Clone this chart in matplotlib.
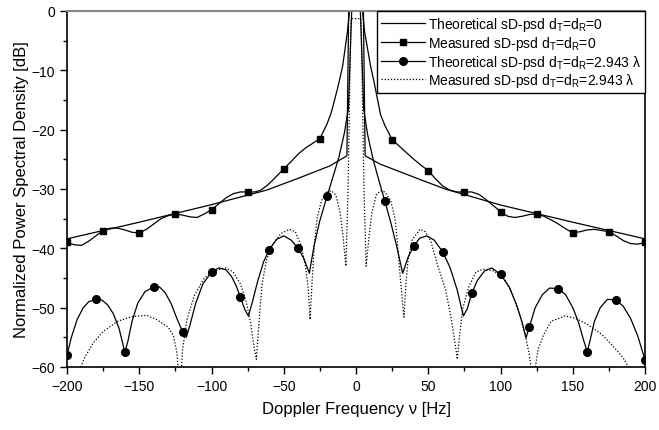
import matplotlib
matplotlib.use("Agg")
import matplotlib.pyplot as plt
from matplotlib.ticker import MultipleLocator

plt.rcParams['font.family'] = ['Liberation Sans', 'DejaVu Sans']
plt.rcParams['mathtext.fontset'] = 'custom'
plt.rcParams['mathtext.rm'] = 'Liberation Sans'
plt.rcParams['mathtext.it'] = 'Liberation Sans:italic'

# Theoretical sD-psd, dT = dR = 0
theo0_f = [-200, -150, -101, -62, -40, -18, -6.3, -5, 5, 6.3, 16.6, 40, 61.6, 100, 150, 200]
theo0_db = [-38.4, -35.6, -32.7, -30.2, -28.2, -26.1, -24.4, 2, 2, -24.4, -25.8, -28.0, -30.0,
            -32.7, -35.6, -38.4]

# Measured sD-psd, dT = dR = 0 (markers every 25 Hz)
meas0_f = [-200, -195, -190, -185, -180, -175, -170, -165, -160, -155, -150, -145, -140, -135,
           -130, -125, -120, -115, -110, -105, -100, -95, -90, -85, -80, -75, -70, -66, -62,
           -58, -54, -50, -45, -40, -35, -30, -25, -20, -17, -12.5, -9.2, -6, -4.5, -4,
           4, 4.5, 6, 10, 12.5, 17, 20, 25, 30, 35, 40, 45, 50, 55, 60, 65, 70, 75, 80, 85,
           90, 95, 100, 105, 110, 115, 120, 125, 130, 135, 140, 145, 150, 155, 160, 165, 170,
           175, 180, 185, 190, 195, 200]
meas0_db = [-39.0, -39.4, -39.5, -38.8, -37.9, -37.0, -36.6, -36.6, -36.9, -37.3, -37.4, -36.8,
            -35.9, -35.0, -34.5, -34.2, -34.4, -34.7, -34.8, -34.2, -33.5, -32.5, -31.5, -30.8,
            -30.5, -30.5, -30.5, -30.2, -29.5, -28.6, -27.6, -26.6, -25.4, -24.1, -23.1, -22.3,
            -21.5, -19.0, -17.0, -12.8, -9.2, -3.6, 0, 3,
            3, 0, -3.6, -9.2, -12.0, -17.5, -19.3, -21.7, -22.8, -23.9, -25.0, -26.0, -26.9,
            -28.3, -29.5, -30.2, -30.5, -30.5, -30.5, -30.9, -31.8, -32.8, -33.8, -34.6, -34.8,
            -34.6, -34.3, -34.2, -34.6, -35.2, -35.9, -36.7, -37.4, -37.2, -36.9, -36.8, -37.0,
            -37.2, -37.9, -38.7, -39.2, -39.3, -39.0]
meas0_marks = [-200, -175, -150, -125, -100, -75, -50, -25, 25, 50, 75, 100, 125, 150, 175, 200]

# Theoretical sD-psd, dT = dR = 2.943 lambda (markers every 20 Hz)
theo1_f = [-200, -197, -193, -189, -185, -180, -176, -172, -168, -164, -161.5, -160, -158, -155,
           -151, -146, -140, -136, -132, -128, -124, -120, -117.5, -115, -111, -106, -100, -95,
           -90, -86, -83, -80, -77, -74.5, -72, -68, -64, -60, -55, -50, -45, -40, -36, -32.3,
           -29, -25, -20, -16, -12, -8, -5.3, -3, -2.5,
           2.5, 3, 5.3, 8, 12, 16, 20, 24, 28, 32.3, 36, 40, 44, 49, 54, 60, 65, 70, 74.3, 77,
           80, 84, 89, 94, 100, 106, 111, 115, 117.6, 120, 124, 129, 134, 140, 145, 150, 154,
           157.5, 160, 162, 165, 169, 174, 180, 185, 190, 195, 200]
theo1_db = [-58.0, -55.0, -52.0, -50.1, -49.0, -48.6, -48.7, -49.5, -51.0, -53.5, -56.0, -57.5,
            -55.8, -52.3, -49.2, -47.3, -46.5, -46.5, -47.5, -49.3, -51.8, -54.1, -55.0, -53.0,
            -49.3, -46.0, -44.0, -43.3, -43.6, -44.8, -46.3, -48.2, -50.3, -51.4, -49.3, -45.5,
            -42.3, -40.2, -38.5, -37.9, -38.6, -40.0, -41.8, -44.2, -39.5, -35.3, -31.2, -28.0,
            -24.8, -20.5, -16.5, 0, 5,
            5, 0, -16.5, -20.8, -25.2, -28.7, -32.1, -35.6, -39.5, -44.2, -41.5, -39.6, -38.3,
            -37.9, -38.6, -40.6, -43.2, -47.0, -51.4, -50.2, -47.6, -45.4, -43.8, -43.3, -44.4,
            -46.5, -49.5, -52.5, -55.1, -53.2, -50.0, -47.8, -46.7, -46.8, -47.8, -50.0, -52.5,
            -55.5, -57.4, -55.5, -52.3, -50.0, -48.6, -48.7, -49.8, -51.8, -54.8, -58.8]
theo1_marks = [-200, -180, -160, -140, -120, -100, -80, -60, -40, -20,
               20, 40, 60, 80, 100, 120, 140, 160, 180, 200]

# Measured sD-psd, dT = dR = 2.943 lambda
meas1_f = [-192, -188, -182, -175, -165, -155, -145, -138, -130, -126.4, -124, -123, -121, -120,
           -117, -112, -105, -98, -90, -85, -80, -76, -73, -71, -69, -67, -65, -62, -58, -52,
           -46, -42, -38, -35, -33, -31.8, -30.5, -29, -27, -24, -20, -17, -14, -11, -9, -7,
           -5.5, -4.5, -3.7, -3.3, 3.3, 3.7, 4.5, 5.5, 7, 9, 11, 14, 17, 20, 24, 27, 29, 31,
           33.2, 34.5, 36, 39, 44.3, 48, 52, 56, 62, 66, 68.5, 70.1, 71.5, 74, 78, 83, 88, 95,
           102, 108, 113, 117, 120, 121.6, 123.5, 126, 130, 135, 144.6, 152, 160, 170, 178, 185,
           191]
meas1_db = [-61, -58.5, -56.0, -54.0, -52.3, -51.5, -51.3, -52.0, -53.3, -54.7, -57.5, -61, -61,
            -57.0, -52.0, -48.0, -45.0, -43.8, -43.3, -44.0, -46.0, -49.0, -52.5, -56.0, -58.7,
            -52.0, -46.0, -42.0, -39.5, -37.5, -36.8, -37.2, -39.5, -43.0, -47.0, -52.0, -46.0,
            -40.0, -35.0, -32.0, -30.5, -30.3, -31.0, -34.0, -38.0, -43.0, -30.0, -15.0, -3.0,
            -1.3, -1.3, -3.0, -15.0, -30.0, -43.0, -38.0, -34.0, -31.0, -30.3, -30.5, -32.0,
            -35.0, -40.0, -46.0, -51.6, -46.0, -42.0, -38.5, -36.8, -37.2, -39.0, -42.5, -47.0,
            -52.0, -56.0, -58.7, -55.0, -50.0, -46.5, -44.0, -43.5, -43.8, -45.0, -47.5, -51.0,
            -54.5, -58.0, -61, -61, -57.0, -54.5, -52.3, -51.4, -51.8, -52.8, -54.5, -56.5,
            -58.5, -61]

lbl_t = r'd$_{\mathrm{T}}$=d$_{\mathrm{R}}$'

fig = plt.figure(figsize=(6.59, 4.31), dpi=100)
ax = fig.add_axes([0.1017, 0.1462, 0.8771, 0.826])

ax.plot(theo0_f, theo0_db, color='black', lw=0.9,
        label='Theoretical sD-psd ' + lbl_t + '=0')
idx0 = [i for i, f in enumerate(meas0_f) if f in meas0_marks]
ax.plot(meas0_f, meas0_db, color='black', lw=0.9, marker='s', ms=5, markevery=idx0,
        label='Measured sD-psd ' + lbl_t + '=0')
idx1 = [i for i, f in enumerate(theo1_f) if f in theo1_marks]
ax.plot(theo1_f, theo1_db, color='black', lw=0.9, marker='o', ms=5.5, markevery=idx1,
        label='Theoretical sD-psd ' + lbl_t + '=2.943 λ')
ax.plot(meas1_f, meas1_db, color='black', lw=0.9, ls=(0, (1, 1.5)),
        label='Measured sD-psd ' + lbl_t + '=2.943 λ')

ax.set_xlim(-200, 200)
ax.set_ylim(-60, 0)
ax.xaxis.set_major_locator(MultipleLocator(50))
ax.xaxis.set_minor_locator(MultipleLocator(25))
ax.yaxis.set_major_locator(MultipleLocator(10))
ax.yaxis.set_minor_locator(MultipleLocator(5))
ax.tick_params(which='major', direction='out', length=5, width=1, labelsize=10)
ax.tick_params(which='minor', direction='out', length=3, width=1)
for s in ['left', 'bottom', 'right']:
    ax.spines[s].set_linewidth(1.2)
ax.spines['top'].set_color('#888888')
ax.spines['top'].set_linewidth(1.5)

ax.set_xlabel('Doppler Frequency ν [Hz]', fontsize=12, labelpad=6)
ax.set_ylabel('Normalized Power Spectral Density [dB]', fontsize=12, labelpad=2)

leg = ax.legend(loc='upper right', fontsize=10, frameon=True, fancybox=False, framealpha=1,
                edgecolor='black', borderaxespad=0, handlelength=3.2, handletextpad=0.15,
                labelspacing=0.05, borderpad=0.3)
leg.get_frame().set_linewidth(1.0)

fig.savefig('out.png', dpi=100)
